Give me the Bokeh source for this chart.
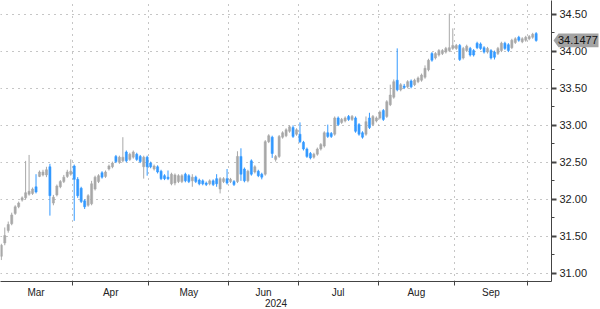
import pandas as pd
from bokeh.plotting import figure
from bokeh.models import Range1d, FixedTicker, NumeralTickFormatter
from bokeh.core.properties import value
from bokeh.embed import file_html
from bokeh.resources import INLINE

# ---------------- data ----------------
start_date = "2024-03-01"
month_labels = ["Mar", "Apr", "May", "Jun", "Jul", "Aug", "Sep"]
year_label = "2024"
y_ticks = [31.0, 31.5, 32.0, 32.5, 33.0, 33.5, 34.0, 34.5]
y_minor_ticks = [31.25, 31.75, 32.25, 32.75, 33.25, 33.75, 34.25]

open_ = [
    31.23, 31.41, 31.58, 31.67, 31.81, 31.90, 31.99, 32.02, 32.07, 32.08,
    32.17, 32.31, 32.33, 32.33, 32.44, 31.95, 32.06, 32.17, 32.24, 32.31,
    32.34, 32.45, 32.27, 32.15, 31.98, 31.92, 31.94, 32.14, 32.24, 32.36,
    32.31, 32.41, 32.44, 32.58, 32.50, 32.52, 32.64, 32.54, 32.57, 32.61,
    32.58, 32.44, 32.57, 32.49, 32.41, 32.44, 32.38, 32.32, 32.30, 32.21,
    32.22, 32.24, 32.24, 32.34, 32.32, 32.25, 32.30, 32.26, 32.25, 32.22,
    32.21, 32.25, 32.28, 32.14, 32.24, 32.28, 32.24, 32.24, 32.24, 32.58,
    32.41, 32.25, 32.52, 32.37, 32.38, 32.34, 32.34, 32.78, 32.84, 32.54,
    32.58, 32.84, 32.86, 32.92, 32.97, 32.88, 32.88, 32.77, 32.68, 32.62,
    32.57, 32.61, 32.68, 32.72, 32.90, 32.89, 32.88, 33.10, 33.04, 33.06,
    33.12, 33.08, 33.10, 33.01, 32.90, 32.88, 33.10, 33.01, 33.06, 33.10,
    33.20, 33.12, 33.28, 33.38, 33.61, 33.48, 33.53, 33.52, 33.60, 33.55,
    33.59, 33.61, 33.65, 33.75, 33.97, 33.91, 33.95, 33.97, 33.99, 34.01,
    34.04, 34.04, 34.08, 33.91, 34.01, 34.04, 34.01, 34.11, 34.10, 34.05,
    33.99, 34.01, 33.99, 33.97, 34.01, 34.11, 34.09, 34.05, 34.12, 34.19,
    34.13, 34.15, 34.17, 34.19, 34.24,
]
high = [
    31.40, 31.62, 31.70, 31.82, 31.92, 31.97, 32.04, 32.52, 32.60, 32.16,
    32.34, 32.39, 32.40, 32.44, 32.48, 32.06, 32.20, 32.26, 32.33, 32.40,
    32.54, 32.47, 32.30, 32.17, 32.00, 32.07, 32.25, 32.32, 32.34, 32.38,
    32.39, 32.47, 32.51, 32.60, 32.59, 32.84, 32.66, 32.63, 32.66, 32.63,
    32.60, 32.59, 32.59, 32.51, 32.47, 32.46, 32.40, 32.34, 32.39, 32.36,
    32.35, 32.34, 32.34, 32.36, 32.34, 32.34, 32.32, 32.28, 32.27, 32.24,
    32.27, 32.27, 32.34, 32.30, 32.30, 32.41, 32.29, 32.26, 32.65, 32.69,
    32.43, 32.40, 32.54, 32.46, 32.40, 32.36, 32.80, 32.88, 32.86, 32.60,
    32.87, 32.92, 32.96, 33.00, 33.00, 32.96, 33.04, 32.79, 32.70, 32.64,
    32.63, 32.70, 32.76, 32.92, 33.01, 32.91, 33.12, 33.12, 33.10, 33.12,
    33.14, 33.14, 33.12, 33.03, 32.92, 33.12, 33.17, 33.14, 33.12, 33.20,
    33.22, 33.34, 33.55, 33.62, 34.04, 33.57, 33.56, 33.61, 33.62, 33.63,
    33.66, 33.70, 33.81, 33.90, 33.99, 33.99, 34.03, 34.03, 34.06, 34.51,
    34.31, 34.10, 34.10, 34.06, 34.09, 34.06, 34.03, 34.13, 34.12, 34.07,
    34.06, 34.03, 34.01, 34.06, 34.13, 34.13, 34.11, 34.17, 34.19, 34.21,
    34.19, 34.21, 34.22, 34.25, 34.26,
]
low = [
    31.18, 31.38, 31.55, 31.65, 31.79, 31.88, 31.97, 32.00, 32.05, 32.06,
    32.08, 32.30, 32.31, 32.30, 31.78, 31.92, 32.04, 32.15, 32.22, 32.29,
    32.32, 31.71, 32.02, 31.95, 31.87, 31.90, 31.92, 32.12, 32.22, 32.28,
    32.29, 32.39, 32.42, 32.49, 32.48, 32.50, 32.50, 32.52, 32.55, 32.52,
    32.49, 32.28, 32.32, 32.42, 32.39, 32.35, 32.26, 32.26, 32.26, 32.19,
    32.19, 32.22, 32.22, 32.23, 32.22, 32.17, 32.22, 32.19, 32.19, 32.18,
    32.19, 32.18, 32.17, 32.08, 32.22, 32.20, 32.22, 32.18, 32.22, 32.25,
    32.23, 32.23, 32.32, 32.35, 32.30, 32.27, 32.32, 32.76, 32.56, 32.51,
    32.56, 32.82, 32.84, 32.90, 32.83, 32.86, 32.76, 32.66, 32.56, 32.54,
    32.55, 32.59, 32.66, 32.70, 32.83, 32.83, 32.86, 32.99, 33.02, 33.04,
    33.06, 33.06, 32.90, 32.86, 32.82, 32.86, 32.95, 32.99, 33.04, 33.08,
    33.06, 33.10, 33.26, 33.36, 33.46, 33.46, 33.49, 33.50, 33.50, 33.53,
    33.57, 33.59, 33.63, 33.73, 33.86, 33.89, 33.93, 33.95, 33.97, 33.99,
    34.02, 34.02, 33.87, 33.89, 33.99, 33.93, 33.93, 34.03, 34.02, 33.97,
    33.97, 33.89, 33.89, 33.95, 33.99, 34.02, 33.99, 34.03, 34.10, 34.13,
    34.11, 34.13, 34.15, 34.17, 34.13,
]
close = [
    31.38, 31.51, 31.66, 31.79, 31.90, 31.95, 32.02, 32.09, 32.11, 32.14,
    32.10, 32.37, 32.37, 32.40, 32.05, 32.03, 32.18, 32.24, 32.30, 32.37,
    32.38, 32.27, 32.05, 31.97, 31.90, 32.05, 32.21, 32.30, 32.32, 32.30,
    32.37, 32.45, 32.49, 32.51, 32.57, 32.57, 32.52, 32.61, 32.64, 32.54,
    32.51, 32.57, 32.44, 32.44, 32.45, 32.37, 32.28, 32.28, 32.28, 32.34,
    32.33, 32.32, 32.32, 32.25, 32.24, 32.30, 32.24, 32.21, 32.21, 32.20,
    32.25, 32.20, 32.21, 32.28, 32.28, 32.22, 32.27, 32.20, 32.58, 32.34,
    32.25, 32.38, 32.34, 32.44, 32.32, 32.30, 32.78, 32.86, 32.62, 32.58,
    32.85, 32.90, 32.94, 32.98, 32.85, 32.94, 32.78, 32.68, 32.58, 32.56,
    32.61, 32.68, 32.74, 32.90, 32.85, 32.85, 33.10, 33.01, 33.08, 33.10,
    33.08, 33.12, 32.92, 32.88, 32.84, 33.05, 32.97, 33.12, 33.10, 33.18,
    33.08, 33.32, 33.41, 33.59, 33.48, 33.55, 33.51, 33.59, 33.52, 33.61,
    33.64, 33.68, 33.77, 33.88, 33.88, 33.97, 34.01, 34.01, 34.04, 34.05,
    34.08, 34.08, 33.89, 34.04, 34.07, 33.95, 33.95, 34.05, 34.04, 33.99,
    34.04, 33.91, 33.92, 34.04, 34.11, 34.04, 34.01, 34.15, 34.17, 34.15,
    34.17, 34.19, 34.20, 34.23, 34.1477,
]

# ---------------- styling / layout ----------------
UP_COLOR = "#a8a8a8"
DOWN_COLOR = "#3399ff"
GRID_COLOR = "#8c8c8c"
AXIS_COLOR = "#444444"
TEXT_COLOR = "#222222"
FONT = "Liberation Sans"

FRAME_W = 551
FRAME_H = 283
X_START, X_END = -0.23, 158.42
Y_START, Y_END = 30.89, 34.687

dates = pd.bdate_range(start_date, periods=len(close))
idx = list(range(len(close)))
colors = [UP_COLOR if c >= o else DOWN_COLOR for o, c in zip(open_, close)]
body_top = [max(o, c) for o, c in zip(open_, close)]
body_bot = [min(o, c) for o, c in zip(open_, close)]

month_start = [i for i in idx if i == 0 or dates[i].month != dates[i - 1].month]
bounds = [i - 0.5 for i in month_start]
centers = [(bounds[k] + bounds[k + 1]) / 2 for k in range(len(month_labels))]

p = figure(
    width=600, height=309,
    x_range=Range1d(X_START, X_END), y_range=Range1d(Y_START, Y_END),
    y_axis_location="right",
    output_backend="svg", toolbar_location=None,
    min_border_left=0, min_border_top=0, min_border_right=49, min_border_bottom=26,
)
p.outline_line_color = None
p.background_fill_color = "white"
p.border_fill_color = "white"

# grids (dotted)
p.xgrid.ticker = FixedTicker(ticks=bounds)
for g in (p.xgrid, p.ygrid):
    g.grid_line_color = GRID_COLOR
    g.grid_line_dash = "1 5"
    g.grid_line_width = 1

# candles
p.segment(x0=idx, y0=high, x1=idx, y1=low, line_color=colors, line_width=1)
p.vbar(x=idx, width=0.62, top=body_top, bottom=body_bot,
       fill_color=colors, line_color=colors, line_width=0.5)

# x axis
xa = p.xaxis[0]
xa.ticker = FixedTicker(ticks=centers, minor_ticks=bounds)
xa.major_label_overrides = {c: m for c, m in zip(centers, month_labels)}
xa.major_tick_out = 0
xa.major_tick_in = 0
xa.minor_tick_out = 4
xa.minor_tick_in = 0
xa.minor_tick_line_color = AXIS_COLOR
xa.axis_line_color = AXIS_COLOR
xa.major_label_standoff = 1
xa.major_label_text_font = FONT
xa.major_label_text_font_size = "10px"
xa.major_label_text_color = TEXT_COLOR
xa.axis_label = year_label
xa.axis_label_standoff = -2
xa.axis_label_text_font = FONT
xa.axis_label_text_font_size = "10px"
xa.axis_label_text_font_style = "normal"
xa.axis_label_text_color = TEXT_COLOR

# y axis (right)
ya = p.yaxis[0]
ya.ticker = FixedTicker(ticks=y_ticks, minor_ticks=y_minor_ticks)
ya.formatter = NumeralTickFormatter(format="0.00")
ya.major_tick_out = 5
ya.major_tick_in = 0
ya.major_tick_line_width = 2
ya.major_tick_line_color = AXIS_COLOR
ya.minor_tick_out = 3
ya.minor_tick_in = 0
ya.minor_tick_line_color = AXIS_COLOR
ya.axis_line_color = AXIS_COLOR
ya.major_label_standoff = 3
ya.major_label_text_font = FONT
ya.major_label_text_font_size = "11px"
ya.major_label_text_color = TEXT_COLOR

# last value tag (drawn at overlay level so it may extend over the axis)
last_value = close[-1]
ppx = (X_END - X_START) / FRAME_W
def px2x(px):
    return X_START + px * ppx
half_h = 7 * (Y_END - Y_START) / FRAME_H
p.patch(
    x=[px2x(553), px2x(558), px2x(598), px2x(598), px2x(558)],
    y=[last_value, last_value + half_h, last_value + half_h, last_value - half_h, last_value - half_h],
    fill_color="#a3a3a3", line_color=None, level="overlay",
)
p.text(
    x=[px2x(557.5)], y=[last_value], text=[f"{last_value:.4f}"],
    text_baseline="middle", text_align="left",
    text_font=value(FONT), text_font_size="11px", text_color="#111111", level="overlay",
)

open("out.html", "w").write(file_html(p, INLINE))
